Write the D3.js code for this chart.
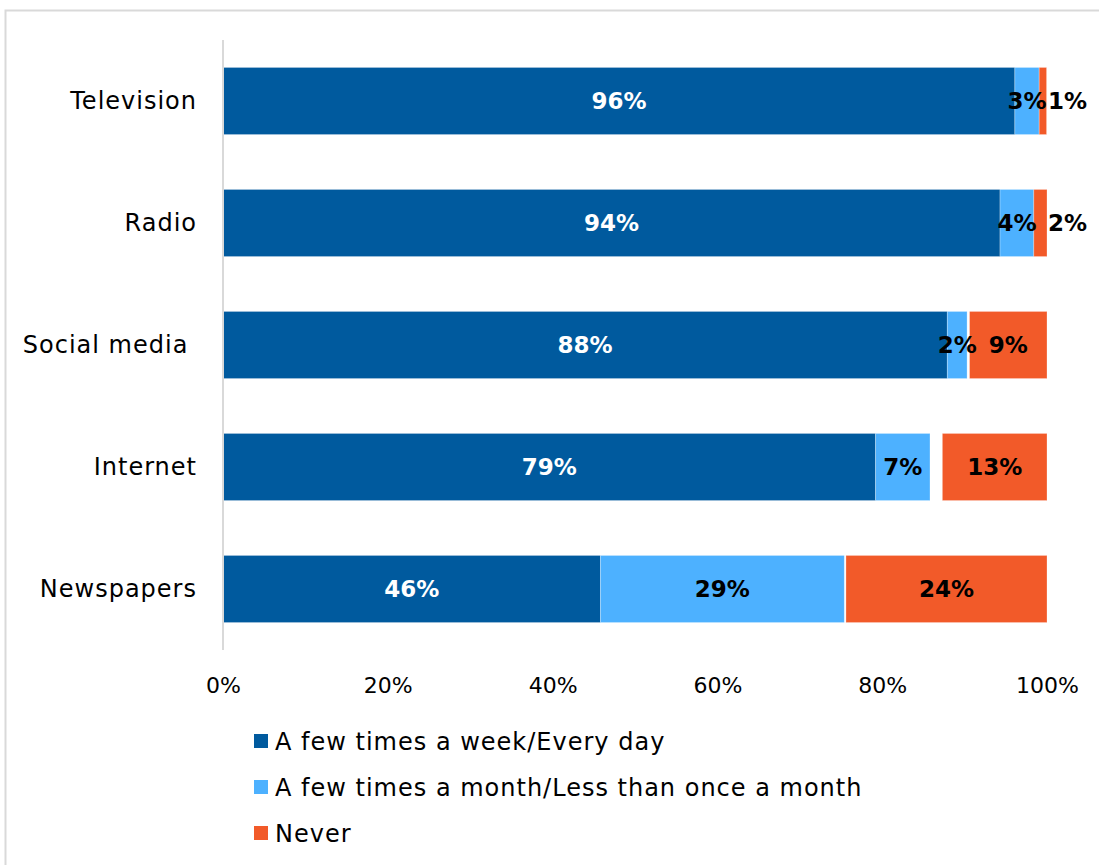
<!DOCTYPE html>
<html>
<head>
<meta charset="utf-8">
<script src="https://cdn.jsdelivr.net/npm/d3@7/dist/d3.min.js"></script>
<style>
html,body{margin:0;padding:0;background:#fff;}
svg{display:block;font-family:"DejaVu Sans",sans-serif;}
</style>
</head>
<body>
<svg id="chart" width="1099" height="865"></svg>
<script>
const categories = ["Television", "Radio", "Social media ", "Internet", "Newspapers"];
const seriesNames = ["A few times a week/Every day", "A few times a month/Less than once a month", "Don't know", "Never"];
const weekly = [96.1, 94.3, 87.9, 79.2, 45.8];
const monthly = [2.95, 4.1, 2.4, 6.6, 29.6];
const dontKnow = [0, 0, 0.3, 1.5, 0.2];
const never = [0.9, 1.6, 9.4, 12.7, 24.4];
const valueLabels = [["96%", "3%", "", "1%"], ["94%", "4%", "", "2%"], ["88%", "2%", "", "9%"], ["79%", "7%", "", "13%"], ["46%", "29%", "", "24%"]];
const tickValues = [0, 20, 40, 60, 80, 100];
const colors = ["#005A9E", "#4DB1FF", "none", "#F25A29"];
const labelColors = ["#ffffff", "#000000", "#000000", "#000000"];
const legendSeries = [0, 1, 3];

const svg = d3.select("#chart");
const W = 1099, H = 865;

// outer border
svg.append("rect").attr("x", 5.5).attr("y", 10.5).attr("width", W + 20).attr("height", H + 20)
  .attr("fill", "none").attr("stroke", "#d9d9d9").attr("stroke-width", 2);

const data = categories.map((c, i) => ({cat: c, s0: weekly[i], s1: monthly[i], s2: dontKnow[i], s3: never[i], idx: i}));
const keys = ["s0", "s1", "s2", "s3"];
const stacked = d3.stack().keys(keys)(data);

const x = d3.scaleLinear().domain([0, 100]).range([223, 1047]);
const y = d3.scaleBand().domain(categories).range([40, 650]).paddingInner(0.45).paddingOuter(0.225);

// bars
stacked.forEach((layer, si) => {
  svg.append("g").selectAll("rect").data(layer).join("rect")
    .attr("x", d => x(d[0]))
    .attr("y", d => y(d.data.cat))
    .attr("width", d => Math.max(0, x(d[1]) - x(d[0])))
    .attr("height", y.bandwidth())
    .attr("fill", colors[si])
    .attr("stroke", colors[si] === "none" ? "none" : "#ffffff")
    .attr("stroke-opacity", 0.35)
    .attr("stroke-width", 0.8);
});

// value labels
stacked.forEach((layer, si) => {
  svg.append("g").selectAll("text").data(layer).join("text")
    .each(function(d) {
      const lab = valueLabels[d.data.idx][si];
      const w = x(d[1]) - x(d[0]);
      const t = d3.select(this);
      t.text(lab)
        .attr("y", y(d.data.cat) + y.bandwidth() / 2)
        .attr("dy", "0.36em")
        .attr("font-size", 23)
        .attr("font-weight", "bold")
        .attr("fill", labelColors[si]);
      if (w < 15) {
        t.attr("x", x(100) + 1).attr("text-anchor", "start");
      } else {
        t.attr("x", (x(d[0]) + x(d[1])) / 2).attr("text-anchor", "middle");
      }
    });
});

// vertical axis line
svg.append("line").attr("x1", 223).attr("x2", 223).attr("y1", 40).attr("y2", 650)
  .attr("stroke", "#d9d9d9").attr("stroke-width", 2);

// category labels
const yAxis = svg.append("g").attr("transform", "translate(223,0)")
  .call(d3.axisLeft(y).tickSize(0).tickPadding(26));
yAxis.select(".domain").remove();
yAxis.selectAll("text").attr("font-size", 24).attr("fill", "#000")
  .attr("font-family", "DejaVu Sans, sans-serif")
  .attr("letter-spacing", 1).style("white-space", "pre");

// x axis tick labels
const xAxis = svg.append("g").attr("transform", "translate(0,674)")
  .call(d3.axisBottom(x).tickValues(tickValues).tickSize(0).tickFormat(d => d + "%"));
xAxis.select(".domain").remove();
xAxis.selectAll("text").attr("font-size", 22).attr("fill", "#000").attr("font-family", "DejaVu Sans, sans-serif");

// legend
const lg = svg.append("g");
legendSeries.forEach((si, i) => {
  const cy = 741 + i * 46;
  lg.append("rect").attr("x", 254).attr("y", cy - 7).attr("width", 14).attr("height", 14).attr("fill", colors[si]);
  lg.append("text").attr("x", 275).attr("y", cy).attr("dy", "0.36em")
    .attr("font-size", 24).attr("letter-spacing", 1).attr("fill", "#000").text(seriesNames[si]);
});
</script>
</body>
</html>
